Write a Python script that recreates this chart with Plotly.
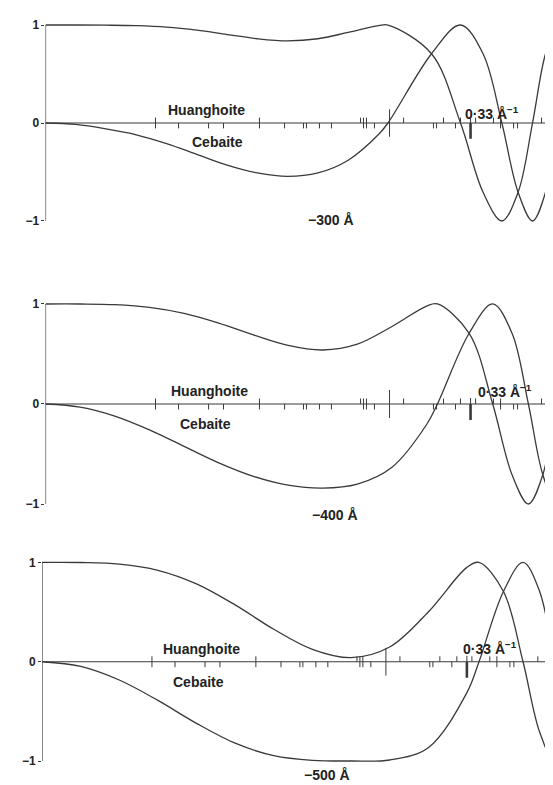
import plotly.graph_objects as go

# ---------------- data ----------------
# spatial frequency u (Å^-1) and the two transfer-function curves per defocus
defocus_labels = ["−300 Å", "−400 Å", "−500 Å"]

u_300 = [0, 0.0235, 0.047, 0.0705, 0.094, 0.1175, 0.141, 0.1645, 0.188, 0.2115, 0.235,
         0.2585, 0.2659, 0.2997, 0.3222, 0.3397, 0.3543, 0.3669, 0.3781, 0.3882, 0.3974, 0.4059]
cos_300 = [1, 1.0, 0.998, 0.993, 0.978, 0.947, 0.903, 0.860, 0.838, 0.860, 0.925,
           0.993, 1, 0.707, 0, -0.707, -1, -0.707, 0, 0.707, 1, 0.707]
sin_300 = [0, -0.015, -0.06, -0.12, -0.21, -0.32, -0.43, -0.51, -0.545, -0.51, -0.38,
           -0.118, 0, 0.707, 1, 0.707, 0, -0.707, -1, -0.707, 0, 0.707]

u_400 = [0, 0.0269, 0.0538, 0.0807, 0.1076, 0.1345, 0.1614, 0.1883, 0.2152, 0.2421,
         0.2690, 0.2959, 0.3043, 0.3289, 0.3472, 0.3622, 0.3749, 0.3861, 0.3962, 0.4054]
cos_400 = [1, 1.0, 0.993, 0.966, 0.906, 0.809, 0.691, 0.586, 0.540, 0.598,
           0.775, 0.979, 1, 0.707, 0, -0.707, -1, -0.707, 0, 0.707]
sin_400 = [0, -0.031, -0.121, -0.259, -0.424, -0.588, -0.723, -0.811, -0.841, -0.801,
           -0.632, -0.205, 0, 0.707, 1, 0.707, 0, -0.707, -1, -0.707]

u_500 = [0, 0.03, 0.06, 0.09, 0.12, 0.15, 0.18, 0.21, 0.24, 0.27, 0.30, 0.33,
         0.3394, 0.3584, 0.3736, 0.3865, 0.3978, 0.4079]
cos_500 = [1, 0.999, 0.983, 0.921, 0.784, 0.572, 0.327, 0.125, 0.041, 0.148, 0.501, 0.950,
           1, 0.707, 0, -0.707, -1, -0.707]
sin_500 = [0, -0.047, -0.184, -0.389, -0.620, -0.820, -0.945, -0.992, -0.999, -0.989, -0.865, -0.311,
           0, 0.707, 1, 0.707, 0, -0.707]

# reflection positions (Å^-1): Huanghoite ticks above the axis, Cebaite ticks below
huanghoite_u = [0.0854, 0.1661, 0.2446, 0.2469, 0.2492, 0.2780, 0.3090, 0.3222,
                0.3339, 0.3478, 0.3533, 0.3851]
cebaite_u = [0.0854, 0.1033, 0.1266, 0.1382, 0.1661, 0.1856, 0.2003, 0.2026, 0.2127,
             0.2220, 0.2469, 0.2492, 0.2554, 0.3012, 0.3036, 0.3183, 0.3533, 0.3634, 0.3665]
strong_u = [0.2671]
limit_u = [0.33]
limit_label = "0·33 Å<sup>−1</sup>"

y_ticks = [-1, 0, 1]
y_ticktext = ["−1", "0", "1"]

# ---------------- figure ----------------
LINE = "#3a3a3a"
TEXT = "#222222"
FONT = "Liberation Sans, Arial, sans-serif"

panels = [(u_300, cos_300, sin_300), (u_400, cos_400, sin_400), (u_500, cos_500, sin_500)]
x_domains = [[0.0678, 0.9995], [0.0678, 0.9995], [0.0615, 0.9928]]
y_domains = [[0.7162, 0.9908], [0.3554, 0.6357], [0.0280, 0.3064]]


def segments(us, y0, y1):
    xs, ys = [], []
    for u in us:
        xs += [u, u, None]
        ys += [y0, y1, None]
    return xs, ys


fig = go.Figure()
layout = dict(
    width=553, height=785,
    margin=dict(l=0, r=0, t=0, b=0),
    paper_bgcolor="white", plot_bgcolor="white",
    showlegend=False,
    font=dict(family=FONT, color=TEXT),
)
shapes = []
annotations = []

# label positions: (huanghoite x,y), (cebaite x,y) and limit label in data units;
# defocus label in paper units (x, y, yanchor)
label_pos = [
    ((0.125, 0.135), (0.1335, -0.195), (0.584, 0.7299, "middle"), (0.347, 0.10)),
    ((0.1273, 0.13), (0.1246, -0.20), (0.591, 0.3541, "middle"), (0.357, 0.13)),
    ((0.1242, 0.13), (0.1215, -0.20), (0.576, 0.010, "bottom"), (0.348, 0.14)),
]

for i, (u, c, s) in enumerate(panels, start=1):
    xa = "x" if i == 1 else f"x{i}"
    ya = "y" if i == 1 else f"y{i}"
    common = dict(xaxis=xa, yaxis=ya, hoverinfo="skip", mode="lines")
    fig.add_trace(go.Scatter(x=u, y=c, line=dict(color=LINE, width=1.3, shape="spline", smoothing=1.0), **common))
    fig.add_trace(go.Scatter(x=u, y=s, line=dict(color=LINE, width=1.3, shape="spline", smoothing=1.0), **common))

    hx, hy = segments(huanghoite_u, 0, 0.055)
    fig.add_trace(go.Scatter(x=hx, y=hy, line=dict(color=LINE, width=1), **common))
    cx, cy = segments(cebaite_u, 0, -0.055)
    fig.add_trace(go.Scatter(x=cx, y=cy, line=dict(color=LINE, width=1), **common))
    sx, sy = segments(strong_u, -0.14, 0.14)
    fig.add_trace(go.Scatter(x=sx, y=sy, line=dict(color=LINE, width=1), **common))
    lx, ly = segments(limit_u, -0.16, 0.0)
    fig.add_trace(go.Scatter(x=lx, y=ly, line=dict(color=LINE, width=2.6), **common))
    lx2, ly2 = segments(limit_u, 0.0, 0.06)
    fig.add_trace(go.Scatter(x=lx2, y=ly2, line=dict(color=LINE, width=1), **common))

    key = "" if i == 1 else str(i)
    layout["xaxis" + key] = dict(domain=x_domains[i - 1], range=[0, 0.4], visible=False,
                                 anchor=ya, fixedrange=True)
    layout["yaxis" + key] = dict(domain=y_domains[i - 1], range=[-1.1, 1.1], anchor=xa,
                                 tickvals=y_ticks, ticktext=[f"<b>{t}</b>" for t in y_ticktext],
                                 ticks="outside", ticklen=3, tickcolor=LINE, tickwidth=1,
                                 showgrid=False, zeroline=False, showline=False,
                                 tickfont=dict(size=12, color=TEXT, family=FONT), fixedrange=True)
    # axes drawn as lines
    shapes.append(dict(type="line", xref=xa, yref=ya, x0=0, x1=0, y0=-1, y1=1,
                       line=dict(color=LINE, width=1.2)))
    shapes.append(dict(type="line", xref=f"{xa} domain", yref=ya, x0=0, x1=1, y0=0, y1=0,
                       line=dict(color=LINE, width=1.2)))

    (hpx, hpy), (cpx, cpy), (dpx, dpy, dya), (lpx, lpy) = label_pos[i - 1]
    for txt, px, py in [("Huanghoite", hpx, hpy), ("Cebaite", cpx, cpy), (limit_label, lpx, lpy)]:
        annotations.append(dict(text=f"<b>{txt}</b>", x=px, y=py, xref=xa, yref=ya,
                                showarrow=False, xanchor="center", yanchor="middle",
                                font=dict(size=14, color=TEXT, family=FONT)))
    annotations.append(dict(text=f"<b>{defocus_labels[i - 1]}</b>", x=dpx, y=dpy,
                            xref="paper", yref="paper", showarrow=False,
                            xanchor="center", yanchor=dya,
                            font=dict(size=14, color=TEXT, family=FONT)))

layout["shapes"] = shapes
layout["annotations"] = annotations
fig.update_layout(**layout)
fig.write_html("out.html")
